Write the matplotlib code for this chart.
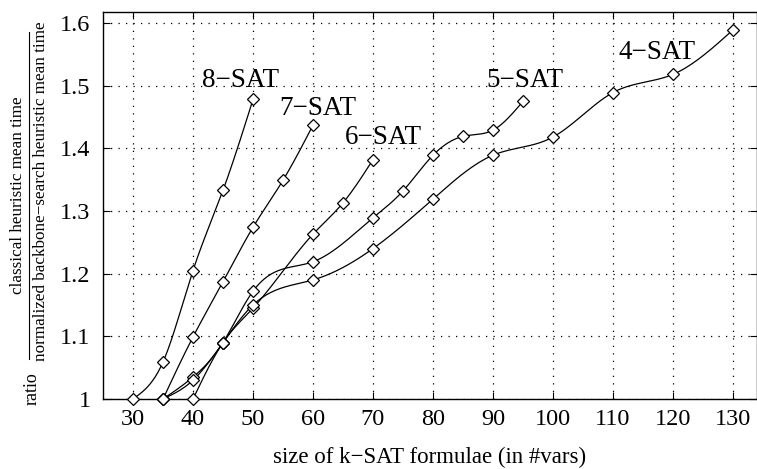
import numpy as np
import matplotlib
matplotlib.use("Agg")
import matplotlib.pyplot as plt
from matplotlib.lines import Line2D

# ---------------- data ----------------
x8 = [30, 35, 40, 45, 50]
y8 = [1.0, 1.059, 1.205, 1.333, 1.478]

x7 = [35, 40, 45, 50, 55, 60]
y7 = [1.0, 1.099, 1.187, 1.274, 1.349, 1.437]

x6 = [40, 45, 50, 60, 65, 70]
y6 = [1.0, 1.09, 1.145, 1.263, 1.313, 1.382]

x5 = [35, 40, 45, 50, 60, 70, 75, 80, 85, 90, 95]
y5 = [1.0, 1.035, 1.09, 1.172, 1.219, 1.289, 1.332, 1.389, 1.419, 1.429, 1.475]

x4 = [35, 40, 45, 50, 60, 70, 80, 90, 100, 110, 120, 130]
y4 = [1.0, 1.03, 1.09, 1.15, 1.190, 1.240, 1.319, 1.389, 1.418, 1.489, 1.518, 1.589]

series_labels = ["8−SAT", "7−SAT", "6−SAT", "5−SAT", "4−SAT"]
label_pos_x = [48.0, 60.8, 71.8, 95.3, 117.4]
label_pos_y = [1.4976, 1.453, 1.4067, 1.498, 1.5418]

xticks = [30, 40, 50, 60, 70, 80, 90, 100, 110, 120, 130]
yticks = [1.0, 1.1, 1.2, 1.3, 1.4, 1.5, 1.6]
ytick_labels = ["1", "1.1", "1.2", "1.3", "1.4", "1.5", "1.6"]


def natural_spline(x, y, n=400):
    x = np.asarray(x, float)
    y = np.asarray(y, float)
    m = len(x)
    h = np.diff(x)
    A = np.zeros((m, m))
    b = np.zeros(m)
    A[0, 0] = 1
    A[-1, -1] = 1
    for i in range(1, m - 1):
        A[i, i - 1] = h[i - 1]
        A[i, i] = 2 * (h[i - 1] + h[i])
        A[i, i + 1] = h[i]
        b[i] = 6 * ((y[i + 1] - y[i]) / h[i] - (y[i] - y[i - 1]) / h[i - 1])
    M = np.linalg.solve(A, b)
    xs = np.linspace(x[0], x[-1], n)
    idx = np.clip(np.searchsorted(x, xs) - 1, 0, m - 2)
    x0, x1 = x[idx], x[idx + 1]
    hh = x1 - x0
    t0 = x1 - xs
    t1 = xs - x0
    ys = (M[idx] * t0 ** 3 / (6 * hh) + M[idx + 1] * t1 ** 3 / (6 * hh)
          + (y[idx] / hh - M[idx] * hh / 6) * t0
          + (y[idx + 1] / hh - M[idx + 1] * hh / 6) * t1)
    return xs, ys


plt.rcParams['font.family'] = ['Liberation Serif', 'DejaVu Serif']

fig = plt.figure(figsize=(7.57, 4.69), dpi=100)
ax = fig.add_axes([103 / 757, 1 - 399 / 469, 1 - 103 / 757, (399 - 12) / 469])

for xs_, ys_ in [(x8, y8), (x7, y7), (x6, y6), (x5, y5), (x4, y4)]:
    sx, sy = natural_spline(xs_, ys_)
    ax.plot(sx, sy, color='black', lw=0.9, zorder=3)
    ax.plot(xs_, ys_, linestyle='none', marker='D', markersize=6.0,
            markerfacecolor='white', markeredgecolor='black',
            markeredgewidth=0.9, zorder=4, clip_on=False)

for lab, lx, ly in zip(series_labels, label_pos_x, label_pos_y):
    ax.text(lx, ly, lab, ha='center', va='baseline', fontsize=19.5, zorder=5)

ax.set_xlim(25, 134)
ax.set_ylim(1.0, 1.6175)
ax.set_xticks(xticks)
ax.set_xticklabels([str(v) for v in xticks])
ax.set_yticks(yticks)
ax.set_yticklabels(ytick_labels)
ax.tick_params(axis='both', direction='in', length=5, width=0.8,
               labelsize=17.5, top=True, right=True)
ax.tick_params(axis='x', pad=7)
ax.tick_params(axis='y', pad=9)
ax.grid(True, color='black', linestyle=(0, (1, 5)), linewidth=0.9)
for sp in ax.spines.values():
    sp.set_linewidth(1.0)

ax.set_xlabel("size of k−SAT formulae (in #vars)", fontsize=16.5, labelpad=12)

# y label as fraction
fig.text(32 / 757, 1 - 389 / 469, "ratio", rotation=90, ha='center', va='center', fontsize=13)
fig.text(18 / 757, 1 - 195 / 469, "classical heuristic mean time", rotation=90,
         ha='center', va='center', fontsize=12.3)
fig.text(41 / 757, 1 - 191 / 469, "normalized backbone−search heuristic mean time",
         rotation=90, ha='center', va='center', fontsize=12.3)
fig.add_artist(Line2D([29.3 / 757, 29.3 / 757], [1 - 32 / 469, 1 - 359 / 469],
                      color='black', lw=0.8, transform=fig.transFigure))

fig.savefig("out.png", dpi=100)
